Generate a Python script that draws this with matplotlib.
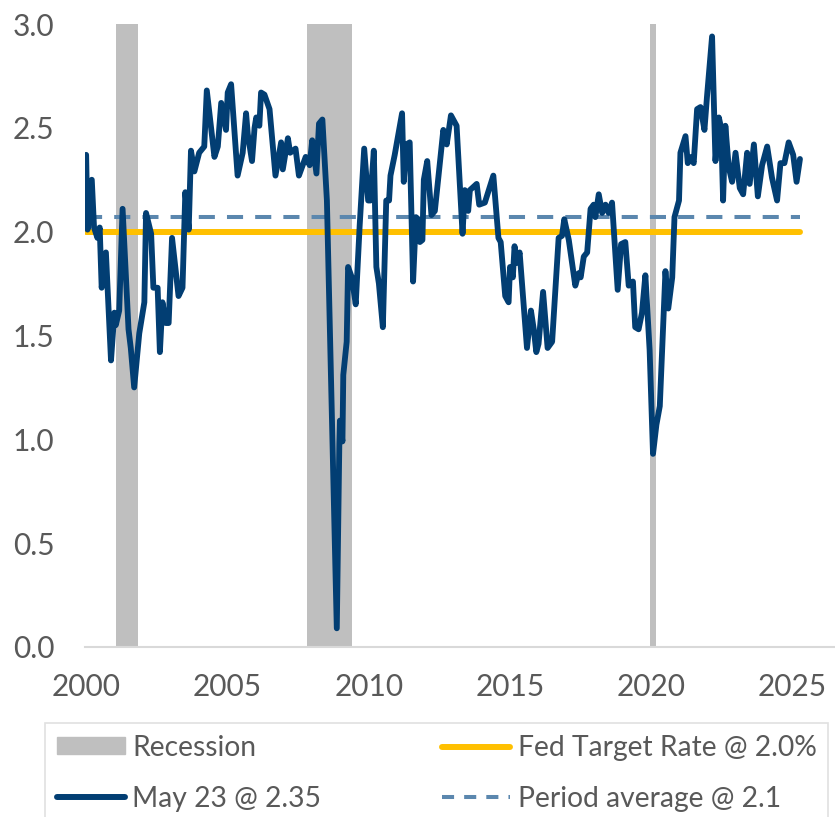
import numpy as np
import matplotlib
matplotlib.use("Agg")
import matplotlib.pyplot as plt
from matplotlib.patches import Patch
from matplotlib.lines import Line2D

plt.rcParams['font.family'] = ['Lato', 'DejaVu Sans']

# series (decimal year, value)
years = [2000.00, 2000.05, 2000.20, 2000.28, 2000.40, 2000.48, 2000.55, 2000.70, 2000.88, 2001.00,
         2001.05, 2001.17, 2001.29, 2001.50, 2001.58, 2001.70, 2001.88, 2002.06, 2002.12, 2002.30,
         2002.38, 2002.53, 2002.61, 2002.70, 2002.82, 2002.92, 2003.04, 2003.27, 2003.41, 2003.51,
         2003.63, 2003.71, 2003.83, 2004.00, 2004.18, 2004.27, 2004.42, 2004.54, 2004.66, 2004.78,
         2004.95, 2005.01, 2005.13, 2005.36, 2005.54, 2005.66, 2005.72, 2005.87, 2005.96, 2006.02,
         2006.13, 2006.19, 2006.31, 2006.49, 2006.70, 2006.90, 2006.96, 2007.14, 2007.22, 2007.41,
         2007.53, 2007.77, 2007.91, 2008.00, 2008.15, 2008.24, 2008.36, 2008.52, 2008.87, 2008.96,
         2008.98, 2009.07, 2009.10, 2009.22, 2009.27, 2009.40, 2009.54, 2009.68, 2009.84, 2009.98,
         2010.06, 2010.18, 2010.27, 2010.36, 2010.50, 2010.62, 2010.72, 2010.77, 2010.92, 2011.18,
         2011.24, 2011.33, 2011.45, 2011.57, 2011.67, 2011.75, 2011.81, 2011.90, 2011.95, 2012.07,
         2012.22, 2012.34, 2012.50, 2012.64, 2012.76, 2012.91, 2013.11, 2013.32, 2013.40, 2013.52,
         2013.58, 2013.82, 2013.91, 2014.11, 2014.41, 2014.59, 2014.67, 2014.83, 2014.95, 2015.00,
         2015.10, 2015.16, 2015.24, 2015.34, 2015.60, 2015.74, 2015.84, 2015.93, 2016.01, 2016.17,
         2016.33, 2016.49, 2016.72, 2016.84, 2016.92, 2017.08, 2017.31, 2017.43, 2017.50, 2017.61,
         2017.73, 2017.85, 2017.96, 2018.02, 2018.14, 2018.26, 2018.38, 2018.49, 2018.61, 2018.81,
         2018.93, 2019.08, 2019.20, 2019.35, 2019.43, 2019.55, 2019.67, 2019.79, 2019.94, 2020.06,
         2020.18, 2020.30, 2020.50, 2020.60, 2020.74, 2020.82, 2020.98, 2021.03, 2021.21, 2021.29,
         2021.41, 2021.50, 2021.62, 2021.74, 2021.88, 2021.97, 2022.15, 2022.27, 2022.39, 2022.47,
         2022.54, 2022.62, 2022.74, 2022.86, 2022.98, 2023.13, 2023.25, 2023.39, 2023.48, 2023.63,
         2023.77, 2023.92, 2024.10, 2024.27, 2024.45, 2024.57, 2024.71, 2024.86, 2025.02, 2025.14,
         2025.26]
values = [2.37, 2.01, 2.25, 2.02, 1.97, 2.02, 1.73, 1.90, 1.38, 1.61,
          1.55, 1.62, 2.11, 1.53, 1.44, 1.25, 1.51, 1.66, 2.09, 1.99,
          1.73, 1.73, 1.42, 1.66, 1.56, 1.56, 1.97, 1.69, 1.73, 2.19,
          2.01, 2.39, 2.29, 2.38, 2.41, 2.68, 2.50, 2.36, 2.41, 2.62,
          2.49, 2.67, 2.71, 2.27, 2.38, 2.57, 2.47, 2.34, 2.50, 2.55,
          2.51, 2.67, 2.66, 2.59, 2.27, 2.43, 2.30, 2.45, 2.38, 2.40,
          2.27, 2.36, 2.32, 2.44, 2.28, 2.52, 2.54, 2.15, 0.09, 0.98,
          1.09, 0.99, 1.31, 1.47, 1.83, 1.78, 1.65, 2.03, 2.40, 2.15,
          2.15, 2.39, 1.83, 1.75, 1.54, 2.15, 2.15, 2.27, 2.37, 2.57,
          2.24, 2.42, 2.43, 1.76, 2.07, 2.06, 1.95, 1.96, 2.25, 2.34,
          2.08, 2.10, 2.31, 2.49, 2.42, 2.56, 2.51, 1.99, 2.20, 2.10,
          2.20, 2.23, 2.13, 2.14, 2.27, 1.97, 1.95, 1.69, 1.66, 1.83,
          1.78, 1.93, 1.85, 1.90, 1.44, 1.62, 1.53, 1.42, 1.46, 1.71,
          1.44, 1.47, 1.97, 1.98, 2.06, 1.96, 1.74, 1.80, 1.78, 1.88,
          1.90, 2.11, 2.13, 2.07, 2.18, 2.09, 2.13, 2.09, 2.14, 1.72,
          1.94, 1.95, 1.74, 1.76, 1.54, 1.53, 1.61, 1.79, 1.43, 0.93,
          1.07, 1.16, 1.81, 1.63, 1.78, 2.07, 2.15, 2.38, 2.46, 2.33,
          2.36, 2.33, 2.59, 2.60, 2.49, 2.65, 2.94, 2.34, 2.55, 2.50,
          2.15, 2.51, 2.31, 2.24, 2.38, 2.21, 2.18, 2.38, 2.23, 2.42,
          2.17, 2.32, 2.41, 2.26, 2.15, 2.33, 2.33, 2.43, 2.37, 2.24,
          2.35]

recession_start = [2001.06, 2007.80, 2019.94]
recession_end = [2001.84, 2009.40, 2020.18]

fed_target = 2.0
period_avg = 2.07
xticks = [2000, 2005, 2010, 2015, 2020, 2025]

NAVY = '#023e73'
GOLD = '#ffc000'
AVG = '#5b87ae'
GREY = '#bfbfbf'
TXT = '#595959'

fig = plt.figure(figsize=(8.35, 8.17), dpi=100)
ax = fig.add_axes([85 / 835, 1 - 647 / 817, 1 - 85 / 835, (647 - 24) / 817])

# recession shading
for s, e in zip(recession_start, recession_end):
    ax.axvspan(s, e, color=GREY, lw=0, zorder=1)

x_end = years[-1]
ax.plot([years[0], x_end], [fed_target, fed_target], color=GOLD, lw=4.3,
        solid_capstyle='round', zorder=2)
ax.plot([years[0], x_end], [period_avg, period_avg], color=AVG, lw=2.9,
        dashes=(4, 3), zorder=2)
ax.plot(years, values, color=NAVY, lw=4.2, solid_joinstyle='round',
        solid_capstyle='round', zorder=3)

ax.set_ylim(0, 3.0)
ax.set_xlim(1999.96, 2026.5)
ax.set_yticks(np.arange(0, 3.01, 0.5))
ax.set_yticklabels([f'{v:.1f}' for v in np.arange(0, 3.01, 0.5)])
ax.set_xticks(xticks)
ax.set_xticklabels([str(t) for t in xticks])
ax.tick_params(length=0, labelsize=21.5, labelcolor=TXT)
ax.tick_params(axis='x', pad=19)
ax.tick_params(axis='y', pad=22)

for side in ['top', 'right', 'left']:
    ax.spines[side].set_visible(False)
ax.spines['bottom'].set_color('#d9d9d9')
ax.spines['bottom'].set_linewidth(1.5)

# legend: column 1 = Recession / May 23, column 2 = Fed / Period average
handles = [Patch(color=GREY),
           Line2D([], [], color=NAVY, lw=4.3, solid_capstyle='round'),
           Line2D([], [], color=GOLD, lw=4.3, solid_capstyle='round'),
           Line2D([], [], color=AVG, lw=2.9, dashes=(3, 2.5))]
labels = ['Recession', 'May 23 @ 2.35', 'Fed Target Rate @ 2.0%', 'Period average @ 2.1']
leg = fig.legend(handles, labels, ncol=2, loc='upper left',
                 bbox_to_anchor=(45 / 835, 1 - 723 / 817), borderaxespad=0,
                 fontsize=20.3, frameon=True, fancybox=False,
                 edgecolor='#d9d9d9', handlelength=2.4, handleheight=0.55,
                 handletextpad=0.27, columnspacing=4.3, labelspacing=0.88,
                 borderpad=0.42, labelcolor=TXT)
leg.get_frame().set_linewidth(1.2)

fig.savefig('out.png', dpi=100)
